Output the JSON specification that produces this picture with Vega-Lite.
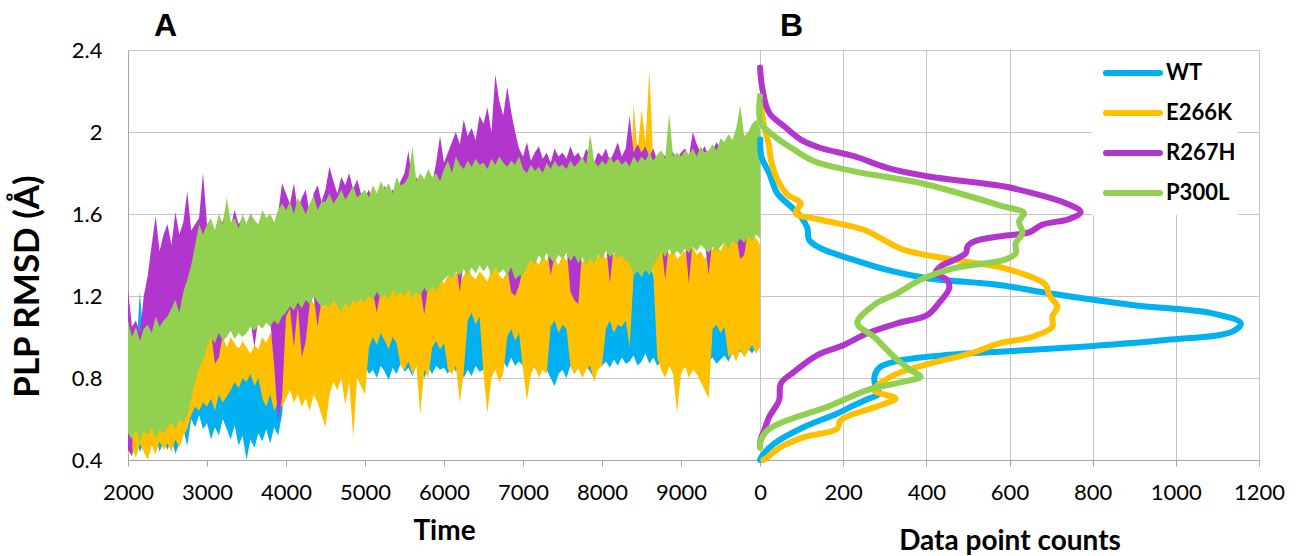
{
"$schema": "https://vega.github.io/schema/vega-lite/v6.json",
"background": "white",
"padding": {"left": 10, "top": 10, "right": 5, "bottom": 0},
"bounds": "flush",
"spacing": 0,
"config": {
  "view": {"stroke": null},
  "font": "Lato",
  "axis": {"labelFont": "Lato", "labelFontSize": 22, "labelColor": "#000000", "labelFlush": false, "titleFont": "Lato", "titleFontWeight": "bold", "titleColor": "#000000", "gridColor": "#c4c4c4", "gridWidth": 1, "domainColor": "#a6a6a6", "tickColor": "#a6a6a6"},
  "title": {"font": "Liberation Sans", "fontSize": 32, "fontWeight": "bold", "anchor": "start", "color": "#000000", "offset": 7, "frame": "group"}
},
"resolve": {"scale": {"color": "independent"}, "legend": {"color": "independent"}},
"datasets": {
"ts": [
{"t":2000,"wl":0.46,"wh":0.95,"el":0.42,"eh":0.70,"rl":0.45,"rh":1.23,"pl":0.53,"ph":1.08},
{"t":2050,"wl":0.42,"wh":1.05,"el":0.46,"eh":0.75,"rl":0.42,"rh":1.05,"pl":0.50,"ph":1.00},
{"t":2100,"wl":0.50,"wh":0.90,"el":0.41,"eh":0.68,"rl":0.90,"rh":1.08,"pl":0.55,"ph":1.05},
{"t":2150,"wl":0.44,"wh":1.22,"el":0.48,"eh":0.78,"rl":0.95,"rh":1.02,"pl":0.48,"ph":0.98},
{"t":2200,"wl":0.48,"wh":0.98,"el":0.44,"eh":0.72,"rl":0.92,"rh":1.20,"pl":0.54,"ph":1.04},
{"t":2250,"wl":0.43,"wh":0.92,"el":0.40,"eh":0.76,"rl":0.98,"rh":1.30,"pl":0.52,"ph":1.06},
{"t":2300,"wl":0.47,"wh":1.00,"el":0.47,"eh":0.70,"rl":1.00,"rh":1.45,"pl":0.56,"ph":1.02},
{"t":2350,"wl":0.52,"wh":0.88,"el":0.43,"eh":0.80,"rl":1.02,"rh":1.59,"pl":0.50,"ph":1.10},
{"t":2400,"wl":0.44,"wh":0.96,"el":0.49,"eh":0.74,"rl":0.98,"rh":1.42,"pl":0.55,"ph":1.05},
{"t":2450,"wl":0.49,"wh":0.90,"el":0.45,"eh":0.78,"rl":1.04,"rh":1.50,"pl":0.53,"ph":1.08},
{"t":2500,"wl":0.45,"wh":0.92,"el":0.48,"eh":0.80,"rl":1.02,"rh":1.55,"pl":0.56,"ph":1.10},
{"t":2550,"wl":0.50,"wh":0.86,"el":0.44,"eh":0.76,"rl":1.06,"rh":1.45,"pl":0.58,"ph":1.14},
{"t":2600,"wl":0.43,"wh":0.95,"el":0.50,"eh":0.82,"rl":1.00,"rh":1.61,"pl":0.55,"ph":1.18},
{"t":2650,"wl":0.48,"wh":0.88,"el":0.46,"eh":0.78,"rl":1.04,"rh":1.50,"pl":0.60,"ph":1.12},
{"t":2700,"wl":0.55,"wh":0.90,"el":0.52,"eh":0.85,"rl":1.08,"rh":1.56,"pl":0.58,"ph":1.22},
{"t":2750,"wl":0.47,"wh":0.93,"el":0.55,"eh":0.88,"rl":1.02,"rh":1.71,"pl":0.62,"ph":1.28},
{"t":2800,"wl":0.60,"wh":0.95,"el":0.62,"eh":0.95,"rl":1.05,"rh":1.52,"pl":0.70,"ph":1.35},
{"t":2850,"wl":0.56,"wh":0.90,"el":0.66,"eh":1.00,"rl":1.00,"rh":1.55,"pl":0.78,"ph":1.45},
{"t":2900,"wl":0.62,"wh":0.96,"el":0.64,"eh":0.98,"rl":0.98,"rh":1.58,"pl":0.85,"ph":1.55},
{"t":2950,"wl":0.55,"wh":0.92,"el":0.68,"eh":1.02,"rl":0.95,"rh":1.80,"pl":0.88,"ph":1.50},
{"t":3000,"wl":0.58,"wh":0.90,"el":0.66,"eh":0.98,"rl":0.98,"rh":1.55,"pl":0.95,"ph":1.55},
{"t":3050,"wl":0.50,"wh":0.95,"el":0.70,"eh":1.02,"rl":1.03,"rh":1.50,"pl":1.00,"ph":1.58},
{"t":3100,"wl":0.56,"wh":0.88,"el":0.64,"eh":0.96,"rl":0.87,"rh":1.52,"pl":0.97,"ph":1.52},
{"t":3150,"wl":0.52,"wh":0.92,"el":0.72,"eh":1.03,"rl":0.90,"rh":1.58,"pl":1.02,"ph":1.60},
{"t":3200,"wl":0.60,"wh":0.96,"el":0.68,"eh":1.00,"rl":1.01,"rh":1.56,"pl":0.98,"ph":1.55},
{"t":3250,"wl":0.55,"wh":0.90,"el":0.71,"eh":0.95,"rl":1.03,"rh":1.65,"pl":1.00,"ph":1.68},
{"t":3300,"wl":0.50,"wh":0.93,"el":0.74,"eh":1.00,"rl":1.06,"rh":1.54,"pl":1.03,"ph":1.56},
{"t":3350,"wl":0.57,"wh":0.88,"el":0.78,"eh":0.97,"rl":1.02,"rh":1.62,"pl":0.99,"ph":1.58},
{"t":3400,"wl":0.47,"wh":0.95,"el":0.75,"eh":0.94,"rl":1.05,"rh":1.55,"pl":1.02,"ph":1.53},
{"t":3450,"wl":0.52,"wh":0.90,"el":0.80,"eh":0.98,"rl":1.03,"rh":1.58,"pl":1.00,"ph":1.60},
{"t":3500,"wl":0.40,"wh":0.92,"el":0.78,"eh":0.95,"rl":1.05,"rh":1.55,"pl":1.02,"ph":1.55},
{"t":3550,"wl":0.50,"wh":0.88,"el":0.82,"eh":0.92,"rl":1.08,"rh":1.60,"pl":1.05,"ph":1.60},
{"t":3600,"wl":0.46,"wh":0.95,"el":0.76,"eh":0.96,"rl":0.95,"rh":1.57,"pl":1.03,"ph":1.57},
{"t":3650,"wl":0.53,"wh":0.90,"el":0.80,"eh":0.94,"rl":1.09,"rh":1.52,"pl":1.06,"ph":1.55},
{"t":3700,"wl":0.49,"wh":0.93,"el":0.70,"eh":1.00,"rl":1.07,"rh":1.60,"pl":1.04,"ph":1.62},
{"t":3750,"wl":0.55,"wh":0.88,"el":0.66,"eh":0.97,"rl":1.10,"rh":1.56,"pl":1.07,"ph":1.58},
{"t":3800,"wl":0.48,"wh":0.91,"el":0.72,"eh":1.02,"rl":1.08,"rh":1.58,"pl":1.05,"ph":1.60},
{"t":3850,"wl":0.56,"wh":0.95,"el":0.64,"eh":0.99,"rl":0.86,"rh":1.55,"pl":1.08,"ph":1.56},
{"t":3900,"wl":0.52,"wh":0.90,"el":0.68,"eh":1.03,"rl":0.59,"rh":1.60,"pl":1.06,"ph":1.62},
{"t":3950,"wl":0.62,"wh":1.00,"el":0.66,"eh":1.10,"rl":0.70,"rh":1.75,"pl":1.10,"ph":1.65},
{"t":4000,"wl":0.84,"wh":1.12,"el":0.70,"eh":1.12,"rl":1.10,"rh":1.70,"pl":1.12,"ph":1.62},
{"t":4050,"wl":0.88,"wh":1.08,"el":0.74,"eh":1.15,"rl":1.14,"rh":1.65,"pl":1.15,"ph":1.66},
{"t":4100,"wl":0.82,"wh":1.15,"el":0.68,"eh":1.10,"rl":0.95,"rh":1.75,"pl":1.13,"ph":1.60},
{"t":4150,"wl":0.86,"wh":1.10,"el":0.72,"eh":1.16,"rl":1.15,"rh":1.62,"pl":1.17,"ph":1.68},
{"t":4200,"wl":0.80,"wh":1.06,"el":0.66,"eh":1.18,"rl":0.90,"rh":1.68,"pl":1.14,"ph":1.64},
{"t":4250,"wl":0.87,"wh":1.14,"el":0.70,"eh":1.14,"rl":0.98,"rh":1.72,"pl":1.18,"ph":1.60},
{"t":4300,"wl":0.83,"wh":1.10,"el":0.64,"eh":1.20,"rl":1.16,"rh":1.60,"pl":1.16,"ph":1.65},
{"t":4350,"wl":0.85,"wh":1.16,"el":0.72,"eh":1.16,"rl":1.20,"rh":1.70,"pl":1.20,"ph":1.69},
{"t":4400,"wl":0.81,"wh":1.08,"el":0.68,"eh":1.18,"rl":1.05,"rh":1.74,"pl":1.17,"ph":1.62},
{"t":4450,"wl":0.86,"wh":1.12,"el":0.62,"eh":1.20,"rl":1.18,"rh":1.66,"pl":1.15,"ph":1.66},
{"t":4500,"wl":0.83,"wh":1.10,"el":0.56,"eh":1.20,"rl":1.20,"rh":1.72,"pl":1.16,"ph":1.66},
{"t":4550,"wl":0.79,"wh":1.15,"el":0.72,"eh":1.25,"rl":1.18,"rh":1.83,"pl":1.14,"ph":1.70},
{"t":4600,"wl":0.86,"wh":1.08,"el":0.78,"eh":1.22,"rl":1.22,"rh":1.76,"pl":1.18,"ph":1.65},
{"t":4650,"wl":0.82,"wh":1.12,"el":0.74,"eh":1.28,"rl":1.19,"rh":1.70,"pl":1.15,"ph":1.68},
{"t":4700,"wl":0.88,"wh":1.10,"el":0.80,"eh":1.24,"rl":1.16,"rh":1.78,"pl":1.12,"ph":1.72},
{"t":4750,"wl":0.81,"wh":1.14,"el":0.67,"eh":1.26,"rl":1.21,"rh":1.74,"pl":1.17,"ph":1.67},
{"t":4800,"wl":0.85,"wh":1.09,"el":0.78,"eh":1.30,"rl":1.18,"rh":1.80,"pl":1.14,"ph":1.70},
{"t":4850,"wl":0.80,"wh":1.13,"el":0.51,"eh":1.25,"rl":1.22,"rh":1.72,"pl":1.18,"ph":1.74},
{"t":4900,"wl":0.87,"wh":1.10,"el":0.80,"eh":1.28,"rl":1.20,"rh":1.77,"pl":1.16,"ph":1.68},
{"t":4950,"wl":0.83,"wh":1.16,"el":0.76,"eh":1.24,"rl":1.23,"rh":1.70,"pl":1.19,"ph":1.70},
{"t":5000,"wl":0.86,"wh":1.10,"el":0.72,"eh":1.28,"rl":1.21,"rh":1.68,"pl":1.17,"ph":1.72},
{"t":5050,"wl":0.82,"wh":1.08,"el":0.95,"eh":1.24,"rl":1.24,"rh":1.72,"pl":1.20,"ph":1.68},
{"t":5100,"wl":0.84,"wh":1.12,"el":1.00,"eh":1.30,"rl":1.22,"rh":1.66,"pl":1.18,"ph":1.74},
{"t":5150,"wl":0.80,"wh":1.15,"el":0.96,"eh":1.26,"rl":1.12,"rh":1.70,"pl":1.22,"ph":1.70},
{"t":5200,"wl":0.86,"wh":1.10,"el":1.02,"eh":1.22,"rl":1.23,"rh":1.65,"pl":1.19,"ph":1.76},
{"t":5250,"wl":0.83,"wh":1.08,"el":0.98,"eh":1.28,"rl":1.25,"rh":1.74,"pl":1.21,"ph":1.72},
{"t":5300,"wl":0.79,"wh":1.14,"el":0.94,"eh":1.25,"rl":1.22,"rh":1.68,"pl":1.18,"ph":1.75},
{"t":5350,"wl":0.85,"wh":1.10,"el":1.00,"eh":1.30,"rl":1.27,"rh":1.72,"pl":1.23,"ph":1.70},
{"t":5400,"wl":0.82,"wh":1.12,"el":0.97,"eh":1.27,"rl":1.24,"rh":1.70,"pl":1.20,"ph":1.78},
{"t":5450,"wl":0.87,"wh":1.09,"el":0.86,"eh":1.24,"rl":1.26,"rh":1.76,"pl":1.22,"ph":1.74},
{"t":5500,"wl":0.83,"wh":1.12,"el":0.84,"eh":1.28,"rl":1.24,"rh":1.80,"pl":1.20,"ph":1.75},
{"t":5550,"wl":0.85,"wh":1.10,"el":0.88,"eh":1.30,"rl":1.27,"rh":1.91,"pl":1.23,"ph":1.78},
{"t":5600,"wl":0.81,"wh":1.15,"el":0.82,"eh":1.26,"rl":1.23,"rh":1.74,"pl":1.19,"ph":1.93},
{"t":5650,"wl":0.86,"wh":1.10,"el":0.86,"eh":1.32,"rl":1.26,"rh":1.78,"pl":1.22,"ph":1.76},
{"t":5700,"wl":0.84,"wh":1.08,"el":0.62,"eh":1.28,"rl":1.24,"rh":1.72,"pl":1.20,"ph":1.80},
{"t":5750,"wl":0.80,"wh":1.13,"el":0.84,"eh":1.25,"rl":1.11,"rh":1.76,"pl":1.24,"ph":1.77},
{"t":5800,"wl":0.85,"wh":1.10,"el":0.80,"eh":1.30,"rl":1.25,"rh":1.80,"pl":1.21,"ph":1.82},
{"t":5850,"wl":0.82,"wh":1.16,"el":0.95,"eh":1.27,"rl":1.29,"rh":1.75,"pl":1.25,"ph":1.78},
{"t":5900,"wl":0.86,"wh":1.10,"el":0.98,"eh":1.24,"rl":1.26,"rh":1.85,"pl":1.22,"ph":1.80},
{"t":5950,"wl":0.84,"wh":1.12,"el":0.94,"eh":1.30,"rl":1.30,"rh":1.98,"pl":1.26,"ph":1.76},
{"t":6000,"wl":0.85,"wh":1.10,"el":0.97,"eh":1.26,"rl":1.32,"rh":1.85,"pl":1.28,"ph":1.82},
{"t":6050,"wl":0.82,"wh":1.14,"el":0.84,"eh":1.30,"rl":1.34,"rh":1.90,"pl":1.30,"ph":1.86},
{"t":6100,"wl":0.87,"wh":1.10,"el":0.82,"eh":1.28,"rl":1.32,"rh":1.95,"pl":1.28,"ph":1.80},
{"t":6150,"wl":0.83,"wh":1.12,"el":0.86,"eh":1.32,"rl":1.36,"rh":2.00,"pl":1.32,"ph":1.88},
{"t":6200,"wl":0.86,"wh":1.18,"el":0.68,"eh":1.27,"rl":1.22,"rh":1.94,"pl":1.30,"ph":1.84},
{"t":6250,"wl":0.80,"wh":1.14,"el":0.83,"eh":1.30,"rl":1.37,"rh":2.06,"pl":1.33,"ph":1.82},
{"t":6300,"wl":0.84,"wh":1.22,"el":1.08,"eh":1.34,"rl":1.34,"rh":1.98,"pl":1.30,"ph":1.86},
{"t":6350,"wl":0.81,"wh":1.16,"el":1.12,"eh":1.30,"rl":1.38,"rh":2.02,"pl":1.34,"ph":1.83},
{"t":6400,"wl":0.86,"wh":1.12,"el":1.06,"eh":1.28,"rl":1.35,"rh":1.96,"pl":1.31,"ph":1.87},
{"t":6450,"wl":0.83,"wh":1.10,"el":1.10,"eh":1.32,"rl":1.39,"rh":2.08,"pl":1.35,"ph":1.84},
{"t":6500,"wl":0.84,"wh":1.12,"el":0.82,"eh":1.30,"rl":1.36,"rh":2.04,"pl":1.32,"ph":1.85},
{"t":6550,"wl":0.87,"wh":1.10,"el":0.63,"eh":1.27,"rl":1.39,"rh":2.12,"pl":1.35,"ph":1.82},
{"t":6600,"wl":0.82,"wh":1.15,"el":0.80,"eh":1.33,"rl":1.34,"rh":2.00,"pl":1.30,"ph":1.87},
{"t":6650,"wl":0.86,"wh":1.12,"el":0.84,"eh":1.36,"rl":1.38,"rh":2.28,"pl":1.34,"ph":1.84},
{"t":6700,"wl":0.83,"wh":1.20,"el":0.78,"eh":1.30,"rl":1.35,"rh":2.15,"pl":1.31,"ph":1.88},
{"t":6750,"wl":0.88,"wh":1.28,"el":0.82,"eh":1.28,"rl":1.37,"rh":2.08,"pl":1.33,"ph":1.85},
{"t":6800,"wl":0.85,"wh":1.32,"el":1.00,"eh":1.32,"rl":1.34,"rh":2.22,"pl":1.30,"ph":1.83},
{"t":6850,"wl":0.90,"wh":1.25,"el":1.04,"eh":1.35,"rl":1.22,"rh":2.10,"pl":1.34,"ph":1.86},
{"t":6900,"wl":0.86,"wh":1.30,"el":0.98,"eh":1.30,"rl":1.20,"rh":2.00,"pl":1.28,"ph":1.84},
{"t":6950,"wl":0.88,"wh":1.22,"el":1.02,"eh":1.34,"rl":1.25,"rh":1.92,"pl":1.30,"ph":1.88},
{"t":7000,"wl":0.86,"wh":1.15,"el":0.84,"eh":1.36,"rl":1.34,"rh":1.88,"pl":1.30,"ph":1.82},
{"t":7050,"wl":0.83,"wh":1.12,"el":0.69,"eh":1.40,"rl":1.38,"rh":1.95,"pl":1.34,"ph":1.80},
{"t":7100,"wl":0.87,"wh":1.10,"el":0.82,"eh":1.43,"rl":1.42,"rh":1.86,"pl":1.38,"ph":1.84},
{"t":7150,"wl":0.85,"wh":1.14,"el":0.86,"eh":1.38,"rl":1.39,"rh":1.90,"pl":1.35,"ph":1.81},
{"t":7200,"wl":0.82,"wh":1.10,"el":0.80,"eh":1.35,"rl":1.44,"rh":1.93,"pl":1.40,"ph":1.83},
{"t":7250,"wl":0.86,"wh":1.12,"el":0.84,"eh":1.40,"rl":1.41,"rh":1.87,"pl":1.37,"ph":1.80},
{"t":7300,"wl":0.84,"wh":1.16,"el":0.82,"eh":1.37,"rl":1.45,"rh":1.90,"pl":1.41,"ph":1.85},
{"t":7350,"wl":0.80,"wh":1.20,"el":1.05,"eh":1.42,"rl":1.30,"rh":1.85,"pl":1.38,"ph":1.82},
{"t":7400,"wl":0.76,"wh":1.18,"el":1.08,"eh":1.38,"rl":1.40,"rh":1.92,"pl":1.36,"ph":1.86},
{"t":7450,"wl":0.82,"wh":1.22,"el":1.02,"eh":1.35,"rl":1.44,"rh":1.88,"pl":1.40,"ph":1.83},
{"t":7500,"wl":0.84,"wh":1.25,"el":1.06,"eh":1.40,"rl":1.42,"rh":1.90,"pl":1.38,"ph":1.84},
{"t":7550,"wl":0.80,"wh":1.18,"el":1.04,"eh":1.37,"rl":1.45,"rh":1.87,"pl":1.41,"ph":1.82},
{"t":7600,"wl":0.86,"wh":1.20,"el":0.86,"eh":1.42,"rl":1.22,"rh":1.93,"pl":1.37,"ph":1.86},
{"t":7650,"wl":0.82,"wh":1.12,"el":0.82,"eh":1.38,"rl":1.18,"rh":1.88,"pl":1.40,"ph":1.83},
{"t":7700,"wl":0.85,"wh":1.10,"el":0.85,"eh":1.40,"rl":1.16,"rh":1.90,"pl":1.36,"ph":1.85},
{"t":7750,"wl":0.81,"wh":1.14,"el":0.80,"eh":1.36,"rl":1.43,"rh":1.86,"pl":1.39,"ph":1.88},
{"t":7800,"wl":0.86,"wh":1.10,"el":0.84,"eh":1.41,"rl":1.39,"rh":1.92,"pl":1.35,"ph":1.84},
{"t":7850,"wl":0.83,"wh":1.12,"el":0.86,"eh":1.38,"rl":1.42,"rh":1.88,"pl":1.38,"ph":1.99},
{"t":7900,"wl":0.80,"wh":1.15,"el":0.78,"eh":1.42,"rl":1.40,"rh":1.85,"pl":1.36,"ph":1.86},
{"t":7950,"wl":0.85,"wh":1.10,"el":0.84,"eh":1.39,"rl":1.44,"rh":1.90,"pl":1.40,"ph":1.83},
{"t":8000,"wl":0.86,"wh":1.15,"el":0.86,"eh":1.41,"rl":1.42,"rh":1.88,"pl":1.38,"ph":1.86},
{"t":8050,"wl":0.88,"wh":1.20,"el":1.04,"eh":1.38,"rl":1.46,"rh":1.92,"pl":1.42,"ph":1.84},
{"t":8100,"wl":0.85,"wh":1.25,"el":1.08,"eh":1.42,"rl":1.26,"rh":1.86,"pl":1.39,"ph":1.88},
{"t":8150,"wl":0.89,"wh":1.18,"el":1.02,"eh":1.40,"rl":1.45,"rh":1.90,"pl":1.41,"ph":1.85},
{"t":8200,"wl":0.86,"wh":1.22,"el":1.06,"eh":1.44,"rl":1.42,"rh":1.95,"pl":1.38,"ph":1.87},
{"t":8250,"wl":0.90,"wh":1.20,"el":1.05,"eh":1.45,"rl":1.44,"rh":1.88,"pl":1.40,"ph":1.84},
{"t":8300,"wl":0.87,"wh":1.15,"el":1.08,"eh":1.42,"rl":1.41,"rh":1.92,"pl":1.37,"ph":1.86},
{"t":8350,"wl":0.88,"wh":1.30,"el":0.95,"eh":1.55,"rl":1.40,"rh":2.08,"pl":1.36,"ph":1.83},
{"t":8400,"wl":0.91,"wh":1.36,"el":1.30,"eh":2.14,"rl":1.34,"rh":1.90,"pl":1.30,"ph":1.88},
{"t":8450,"wl":0.86,"wh":1.32,"el":1.36,"eh":1.90,"rl":1.36,"rh":1.94,"pl":1.32,"ph":1.85},
{"t":8500,"wl":0.88,"wh":1.38,"el":1.38,"eh":2.11,"rl":1.33,"rh":1.90,"pl":1.29,"ph":1.88},
{"t":8550,"wl":0.92,"wh":1.34,"el":1.32,"eh":1.95,"rl":1.37,"rh":1.93,"pl":1.33,"ph":1.86},
{"t":8600,"wl":0.87,"wh":1.36,"el":1.40,"eh":2.30,"rl":1.34,"rh":1.88,"pl":1.30,"ph":1.90},
{"t":8650,"wl":0.90,"wh":1.30,"el":1.30,"eh":1.85,"rl":1.39,"rh":1.92,"pl":1.35,"ph":1.86},
{"t":8700,"wl":0.86,"wh":1.20,"el":0.90,"eh":1.50,"rl":1.42,"rh":1.86,"pl":1.38,"ph":1.89},
{"t":8750,"wl":0.88,"wh":1.15,"el":0.84,"eh":1.42,"rl":1.46,"rh":1.90,"pl":1.42,"ph":1.91},
{"t":8800,"wl":0.85,"wh":1.12,"el":0.80,"eh":1.45,"rl":1.28,"rh":1.88,"pl":1.39,"ph":1.87},
{"t":8850,"wl":0.89,"wh":1.14,"el":0.86,"eh":1.40,"rl":1.47,"rh":1.92,"pl":1.43,"ph":2.09},
{"t":8900,"wl":0.86,"wh":1.10,"el":0.82,"eh":1.43,"rl":1.44,"rh":1.90,"pl":1.40,"ph":1.88},
{"t":8950,"wl":0.84,"wh":1.12,"el":0.63,"eh":1.38,"rl":1.46,"rh":1.87,"pl":1.42,"ph":1.90},
{"t":9000,"wl":0.87,"wh":1.10,"el":0.82,"eh":1.40,"rl":1.44,"rh":1.90,"pl":1.40,"ph":1.88},
{"t":9050,"wl":0.85,"wh":1.14,"el":0.86,"eh":1.42,"rl":1.47,"rh":1.92,"pl":1.43,"ph":1.91},
{"t":9100,"wl":0.88,"wh":1.12,"el":0.80,"eh":1.38,"rl":1.26,"rh":1.88,"pl":1.41,"ph":1.89},
{"t":9150,"wl":0.86,"wh":1.10,"el":0.84,"eh":1.44,"rl":1.48,"rh":2.00,"pl":1.44,"ph":1.92},
{"t":9200,"wl":0.84,"wh":1.15,"el":0.82,"eh":1.40,"rl":1.46,"rh":1.94,"pl":1.42,"ph":1.88},
{"t":9250,"wl":0.87,"wh":1.12,"el":0.78,"eh":1.42,"rl":1.49,"rh":1.90,"pl":1.45,"ph":1.93},
{"t":9300,"wl":0.85,"wh":1.10,"el":0.74,"eh":1.38,"rl":1.47,"rh":1.93,"pl":1.43,"ph":1.90},
{"t":9350,"wl":0.88,"wh":1.18,"el":0.70,"eh":1.40,"rl":1.30,"rh":1.88,"pl":1.41,"ph":1.91},
{"t":9400,"wl":0.90,"wh":1.20,"el":1.04,"eh":1.43,"rl":1.48,"rh":1.91,"pl":1.44,"ph":1.94},
{"t":9450,"wl":0.87,"wh":1.15,"el":1.06,"eh":1.45,"rl":1.46,"rh":1.95,"pl":1.42,"ph":1.91},
{"t":9500,"wl":0.89,"wh":1.18,"el":1.02,"eh":1.42,"rl":1.48,"rh":1.92,"pl":1.44,"ph":1.97},
{"t":9550,"wl":0.91,"wh":1.20,"el":1.05,"eh":1.46,"rl":1.50,"rh":1.95,"pl":1.46,"ph":1.95},
{"t":9600,"wl":0.88,"wh":1.15,"el":0.90,"eh":1.44,"rl":1.47,"rh":1.90,"pl":1.43,"ph":1.99},
{"t":9650,"wl":0.92,"wh":1.20,"el":0.92,"eh":1.48,"rl":1.51,"rh":1.96,"pl":1.47,"ph":1.96},
{"t":9700,"wl":0.90,"wh":1.18,"el":0.88,"eh":1.45,"rl":1.49,"rh":1.94,"pl":1.45,"ph":2.02},
{"t":9750,"wl":0.93,"wh":1.22,"el":0.94,"eh":1.50,"rl":1.38,"rh":1.98,"pl":1.48,"ph":2.13},
{"t":9800,"wl":0.91,"wh":1.20,"el":0.90,"eh":1.47,"rl":1.40,"rh":1.95,"pl":1.46,"ph":1.98},
{"t":9850,"wl":0.94,"wh":1.25,"el":0.93,"eh":1.52,"rl":1.53,"rh":1.97,"pl":1.49,"ph":2.00},
{"t":9900,"wl":0.92,"wh":1.22,"el":0.96,"eh":1.50,"rl":1.51,"rh":1.96,"pl":1.47,"ph":2.04},
{"t":9950,"wl":0.95,"wh":1.20,"el":0.92,"eh":1.48,"rl":1.54,"rh":2.00,"pl":1.50,"ph":2.06},
{"t":10000,"wl":0.95,"wh":1.18,"el":0.95,"eh":1.45,"rl":1.52,"rh":1.95,"pl":1.48,"ph":2.02}
],
"hist": [
{"s":"WT","v":0.40,"c":0},{"s":"WT","v":0.423,"c":6},{"s":"WT","v":0.48,"c":34},{"s":"WT","v":0.561,"c":106},{"s":"WT","v":0.627,"c":186},{"s":"WT","v":0.667,"c":226},{"s":"WT","v":0.70,"c":262},{"s":"WT","v":0.724,"c":286},{"s":"WT","v":0.773,"c":276},{"s":"WT","v":0.814,"c":276},{"s":"WT","v":0.855,"c":290},{"s":"WT","v":0.879,"c":322},{"s":"WT","v":0.90,"c":386},{"s":"WT","v":0.92,"c":499},{"s":"WT","v":0.928,"c":575},{"s":"WT","v":0.953,"c":775},{"s":"WT","v":0.985,"c":976},{"s":"WT","v":1.026,"c":1136},{"s":"WT","v":1.067,"c":1156},{"s":"WT","v":1.115,"c":1088},{"s":"WT","v":1.156,"c":895},{"s":"WT","v":1.213,"c":695},{"s":"WT","v":1.254,"c":575},{"s":"WT","v":1.287,"c":402},{"s":"WT","v":1.327,"c":306},{"s":"WT","v":1.376,"c":226},{"s":"WT","v":1.433,"c":146},{"s":"WT","v":1.474,"c":118},{"s":"WT","v":1.531,"c":114},{"s":"WT","v":1.588,"c":98},{"s":"WT","v":1.637,"c":74},{"s":"WT","v":1.70,"c":42},{"s":"WT","v":1.80,"c":22},{"s":"WT","v":1.882,"c":3},{"s":"WT","v":1.963,"c":1},
{"s":"E266K","v":0.40,"c":8},{"s":"E266K","v":0.407,"c":14},{"s":"E266K","v":0.464,"c":50},{"s":"E266K","v":0.512,"c":106},{"s":"E266K","v":0.553,"c":186},{"s":"E266K","v":0.594,"c":194},{"s":"E266K","v":0.667,"c":290},{"s":"E266K","v":0.70,"c":326},{"s":"E266K","v":0.741,"c":274},{"s":"E266K","v":0.814,"c":322},{"s":"E266K","v":0.871,"c":410},{"s":"E266K","v":0.92,"c":507},{"s":"E266K","v":0.969,"c":575},{"s":"E266K","v":1.001,"c":655},{"s":"E266K","v":1.05,"c":703},{"s":"E266K","v":1.099,"c":703},{"s":"E266K","v":1.148,"c":715},{"s":"E266K","v":1.205,"c":695},{"s":"E266K","v":1.254,"c":687},{"s":"E266K","v":1.336,"c":587},{"s":"E266K","v":1.376,"c":467},{"s":"E266K","v":1.425,"c":346},{"s":"E266K","v":1.482,"c":290},{"s":"E266K","v":1.523,"c":250},{"s":"E266K","v":1.572,"c":146},{"s":"E266K","v":1.604,"c":86},{"s":"E266K","v":1.653,"c":98},{"s":"E266K","v":1.694,"c":66},{"s":"E266K","v":1.768,"c":42},{"s":"E266K","v":1.865,"c":26},{"s":"E266K","v":1.931,"c":22},{"s":"E266K","v":2.028,"c":10},{"s":"E266K","v":2.126,"c":2},
{"s":"R267H","v":0.48,"c":0},{"s":"R267H","v":0.504,"c":2},{"s":"R267H","v":0.545,"c":10},{"s":"R267H","v":0.61,"c":22},{"s":"R267H","v":0.692,"c":46},{"s":"R267H","v":0.773,"c":50},{"s":"R267H","v":0.83,"c":82},{"s":"R267H","v":0.912,"c":138},{"s":"R267H","v":0.961,"c":202},{"s":"R267H","v":1.018,"c":258},{"s":"R267H","v":1.067,"c":330},{"s":"R267H","v":1.107,"c":402},{"s":"R267H","v":1.165,"c":430},{"s":"R267H","v":1.238,"c":455},{"s":"R267H","v":1.279,"c":450},{"s":"R267H","v":1.311,"c":422},{"s":"R267H","v":1.344,"c":434},{"s":"R267H","v":1.376,"c":467},{"s":"R267H","v":1.409,"c":495},{"s":"R267H","v":1.442,"c":499},{"s":"R267H","v":1.466,"c":515},{"s":"R267H","v":1.494,"c":587},{"s":"R267H","v":1.51,"c":647},{"s":"R267H","v":1.548,"c":679},{"s":"R267H","v":1.575,"c":743},{"s":"R267H","v":1.61,"c":771},{"s":"R267H","v":1.653,"c":735},{"s":"R267H","v":1.702,"c":655},{"s":"R267H","v":1.735,"c":585},{"s":"R267H","v":1.784,"c":402},{"s":"R267H","v":1.825,"c":306},{"s":"R267H","v":1.882,"c":226},{"s":"R267H","v":1.922,"c":146},{"s":"R267H","v":1.963,"c":98},{"s":"R267H","v":2.028,"c":58},{"s":"R267H","v":2.094,"c":22},{"s":"R267H","v":2.208,"c":6},{"s":"R267H","v":2.314,"c":0},
{"s":"P300L","v":0.46,"c":0},{"s":"P300L","v":0.496,"c":2},{"s":"P300L","v":0.545,"c":18},{"s":"P300L","v":0.594,"c":66},{"s":"P300L","v":0.659,"c":162},{"s":"P300L","v":0.741,"c":258},{"s":"P300L","v":0.782,"c":346},{"s":"P300L","v":0.806,"c":386},{"s":"P300L","v":0.839,"c":362},{"s":"P300L","v":0.904,"c":322},{"s":"P300L","v":1.001,"c":274},{"s":"P300L","v":1.067,"c":234},{"s":"P300L","v":1.156,"c":274},{"s":"P300L","v":1.213,"c":330},{"s":"P300L","v":1.279,"c":386},{"s":"P300L","v":1.336,"c":467},{"s":"P300L","v":1.376,"c":587},{"s":"P300L","v":1.409,"c":615},{"s":"P300L","v":1.458,"c":615},{"s":"P300L","v":1.507,"c":631},{"s":"P300L","v":1.564,"c":623},{"s":"P300L","v":1.604,"c":635},{"s":"P300L","v":1.64,"c":580},{"s":"P300L","v":1.751,"c":386},{"s":"P300L","v":1.808,"c":226},{"s":"P300L","v":1.857,"c":130},{"s":"P300L","v":1.914,"c":82},{"s":"P300L","v":1.98,"c":34},{"s":"P300L","v":2.045,"c":2},{"s":"P300L","v":2.175,"c":0}
]
},
"hconcat": [
{
  "width": 632, "height": 410,
  "title": {"text": "A", "dx": 26, "offset": -4},
  "data": {"name": "ts"},
  "layer": [
    {"mark": {"type": "area", "color": "#00B0F0"},
     "encoding": {
       "x": {"field": "t", "type": "quantitative", "scale": {"domain": [2000, 10000], "nice": false, "zero": false},
             "axis": {"values": [2000,3000,4000,5000,6000,7000,8000,9000], "format": "d", "grid": false, "tickSize": 6, "labelPadding": 16, "labelFlush": false, "title": "Time", "titleFontSize": 28, "titlePadding": 14}},
       "y": {"field": "wh", "type": "quantitative", "scale": {"domain": [0.4, 2.4], "nice": false, "zero": false},
             "axis": {"values": [0.4,0.8,1.2,1.6,2,2.4], "format": ".1~f", "grid": true, "ticks": false, "tickSize": 0, "labelPadding": 26, "labelFlush": false, "title": "PLP RMSD (Å)", "titleFontSize": 35, "titlePadding": 26, "titleY": 236}},
       "y2": {"field": "wl"}}},
    {"mark": {"type": "area", "color": "#FFC000"},
     "encoding": {
       "x": {"field": "t", "type": "quantitative"},
       "y": {"field": "eh", "type": "quantitative", "axis": {"values": [0.4,0.8,1.2,1.6,2,2.4], "format": ".1~f", "grid": true, "ticks": false, "tickSize": 0, "labelPadding": 26, "labelFlush": false, "title": "PLP RMSD (Å)", "titleFontSize": 35, "titlePadding": 26, "titleY": 236}},
       "y2": {"field": "el"}}},
    {"mark": {"type": "area", "color": "#B236CE"},
     "encoding": {
       "x": {"field": "t", "type": "quantitative"},
       "y": {"field": "rh", "type": "quantitative", "axis": {"values": [0.4,0.8,1.2,1.6,2,2.4], "format": ".1~f", "grid": true, "ticks": false, "tickSize": 0, "labelPadding": 26, "labelFlush": false, "title": "PLP RMSD (Å)", "titleFontSize": 35, "titlePadding": 26, "titleY": 236}},
       "y2": {"field": "rl"}}},
    {"mark": {"type": "area", "color": "#92D050"},
     "encoding": {
       "x": {"field": "t", "type": "quantitative"},
       "y": {"field": "ph", "type": "quantitative", "axis": {"values": [0.4,0.8,1.2,1.6,2,2.4], "format": ".1~f", "grid": true, "ticks": false, "tickSize": 0, "labelPadding": 26, "labelFlush": false, "title": "PLP RMSD (Å)", "titleFontSize": 35, "titlePadding": 26, "titleY": 236}},
       "y2": {"field": "pl"}}}
  ]
},
{
  "width": 499, "height": 410,
  "title": {"text": "B", "dx": 20, "offset": 7},
  "data": {"name": "hist"},
  "mark": {"type": "line", "strokeWidth": 6, "strokeCap": "round", "strokeJoin": "round", "interpolate": "catmull-rom"},
  "encoding": {
    "x": {"field": "c", "type": "quantitative", "scale": {"domain": [0, 1200], "nice": false},
          "axis": {"values": [0,200,400,600,800,1000,1200], "format": "d", "grid": true, "tickSize": 6, "labelPadding": 16, "labelFlush": false, "title": "Data point counts", "titleFontSize": 28, "titlePadding": 24}},
    "y": {"field": "v", "type": "quantitative", "scale": {"domain": [0.4, 2.4], "nice": false, "zero": false},
          "axis": {"values": [0.4,0.8,1.2,1.6,2,2.4], "grid": true, "labels": false, "ticks": false, "domain": false, "title": null}},
    "color": {"field": "s", "type": "nominal",
              "scale": {"domain": ["WT","E266K","R267H","P300L"], "range": ["#00B0F0","#FFC000","#B236CE","#92D050"]},
              "legend": {"orient": "none", "legendX": 332, "legendY": 1, "title": null, "fillColor": "white", "padding": 2,
                         "symbolType": "stroke", "symbolSize": 2916, "symbolStrokeWidth": 6, "symbolOffset": 9,
                         "clipHeight": 40, "rowPadding": 0, "labelFont": "Lato", "labelFontSize": 22, "labelFontWeight": "bold",
                         "labelColor": "#000000", "labelOffset": 3,
                         "encode": {"symbols": {"update": {"strokeCap": {"value": "round"}}}}}},
    "order": {"field": "v", "type": "quantitative"}
  }
}
]
}
